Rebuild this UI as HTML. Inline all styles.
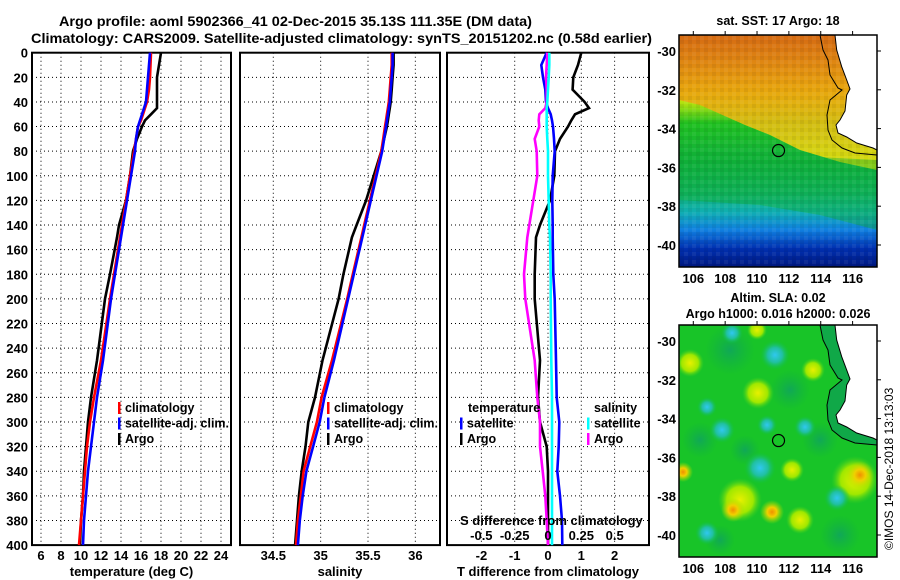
<!DOCTYPE html>
<html><head><meta charset="utf-8">
<style>
body{margin:0;background:#fff;}
svg{display:block;font-family:"Liberation Sans",sans-serif;font-weight:bold;}
</style></head>
<body>
<svg id="fig" width="900" height="580" viewBox="0 0 900 580" xmlns="http://www.w3.org/2000/svg">
<defs>
<linearGradient id="sstg" x1="0" y1="0" x2="0" y2="1">
<stop offset="0" stop-color="#f0a020"/><stop offset="0.12" stop-color="#f8c020"/>
<stop offset="0.24" stop-color="#f0e800"/><stop offset="0.30" stop-color="#a8e010"/>
<stop offset="0.38" stop-color="#20c020"/><stop offset="0.55" stop-color="#10b040"/>
<stop offset="0.68" stop-color="#10b070"/><stop offset="0.76" stop-color="#10b0b0"/>
<stop offset="0.84" stop-color="#1080e0"/><stop offset="0.92" stop-color="#0030b0"/>
<stop offset="1" stop-color="#001880"/></linearGradient>
<linearGradient id="warmg" x1="0" y1="0" x2="0" y2="1">
<stop offset="0" stop-color="#d06010"/><stop offset="0.45" stop-color="#e8a010"/>
<stop offset="0.8" stop-color="#f8d010"/><stop offset="1" stop-color="#f0e800"/></linearGradient>
<radialGradient id="cy"><stop offset="0" stop-color="#30c8f0"/><stop offset="0.5" stop-color="#20c0a0"/><stop offset="1" stop-color="#10c040" stop-opacity="0"/></radialGradient>
<radialGradient id="ye"><stop offset="0" stop-color="#e8f000"/><stop offset="0.6" stop-color="#a0e800"/><stop offset="1" stop-color="#40d020" stop-opacity="0"/></radialGradient>
<radialGradient id="or"><stop offset="0" stop-color="#f09000"/><stop offset="0.4" stop-color="#f0d000"/><stop offset="1" stop-color="#a0e000" stop-opacity="0"/></radialGradient>
<radialGradient id="dg"><stop offset="0" stop-color="#10a858"/><stop offset="1" stop-color="#10b040" stop-opacity="0"/></radialGradient>
<pattern id="px" width="8" height="8" patternUnits="userSpaceOnUse"><rect width="4" height="4" fill="#000" opacity="0.06"/><rect x="4" y="4" width="4" height="4" fill="#fff" opacity="0.06"/></pattern>
<clipPath id="m1c"><rect x="679" y="35" width="198" height="232"/></clipPath>
<clipPath id="m2c"><rect x="679" y="325" width="198" height="232"/></clipPath>
</defs>
<text x="59" y="26" font-size="14" textLength="473" lengthAdjust="spacingAndGlyphs">Argo profile: aoml 5902366_41 02-Dec-2015 35.13S 111.35E (DM data)</text>
<text x="31" y="43" font-size="14" textLength="621" lengthAdjust="spacingAndGlyphs">Climatology: CARS2009. Satellite-adjusted climatology: synTS_20151202.nc (0.58d earlier)</text>
<g id="panels"></g>
<g id="maps"></g>
<text transform="translate(893,550) rotate(-90)" font-size="12" font-weight="normal">©IMOS 14-Dec-2018 13:13:03</text>
</svg>
<script>
const depths=[0,10,20,30,40,45,50,55,60,70,80,100,120,140,150,180,200,250,280,300,320,340,360,380,400];
const tClim=[17.0,16.95,16.9,16.8,16.6,16.4,16.2,16.0,15.7,15.5,15.3,14.9,14.5,14.1,13.9,13.3,12.9,12.0,11.3,10.9,10.6,10.4,10.2,10.0,9.8];
const tSat=[16.9,16.8,16.7,16.6,16.5,16.3,16.1,15.9,15.7,15.5,15.4,15.0,14.6,14.2,14.0,13.4,13.0,12.2,11.6,11.3,11.0,10.7,10.5,10.3,10.2];
const tArgo=[18.0,17.8,17.6,17.6,17.6,17.6,17.0,16.4,16.1,15.6,15.2,14.9,14.5,13.8,13.6,12.9,12.4,11.6,11.0,10.7,10.5,10.3,10.2,10.0,9.9];
const sClim=[35.75,35.75,35.74,35.73,35.72,35.71,35.70,35.69,35.68,35.66,35.64,35.58,35.52,35.46,35.43,35.34,35.28,35.12,35.01,34.96,34.89,34.82,34.79,34.76,34.74];
const sSat=[35.76,35.76,35.75,35.74,35.73,35.72,35.71,35.70,35.69,35.67,35.65,35.59,35.53,35.47,35.44,35.35,35.29,35.14,35.04,34.99,34.92,34.85,34.81,34.78,34.76];
const sArgo=[35.77,35.77,35.76,35.75,35.74,35.73,35.72,35.71,35.70,35.67,35.64,35.56,35.48,35.38,35.33,35.24,35.19,35.02,34.94,34.87,34.84,34.80,34.77,34.75,34.73];
const tDiffSat=[-0.04,-0.2,-0.15,-0.08,-0.06,0.0,0.08,0.12,0.15,0.18,0.2,0.14,0.13,0.14,0.14,0.16,0.2,0.24,0.26,0.34,0.32,0.28,0.36,0.42,0.43];
const tDiffArgo=[1.0,0.9,0.76,0.74,1.1,1.23,0.81,0.7,0.6,0.36,0.21,0.19,0.06,-0.24,-0.36,-0.4,-0.4,-0.24,-0.3,-0.24,-0.04,0,0,0,0];
const sDiffSat=[0.01,0.01,0.005,0,-0.005,-0.01,-0.01,-0.01,-0.01,-0.005,0,0,0.005,0.01,0.015,0.02,0.02,0.025,0.03,0.03,0.03,0.03,0.03,0.03,0.03];
const sDiffArgo=[-0.005,-0.01,-0.015,-0.01,-0.01,-0.02,-0.065,-0.07,-0.065,-0.1,-0.085,-0.08,-0.11,-0.14,-0.155,-0.18,-0.17,-0.1,-0.08,-0.06,-0.06,-0.04,-0.02,-0.01,0];
const depthTicks=[0,20,40,60,80,100,120,140,160,180,200,220,240,260,280,300,320,340,360,380,400];
const tTicks=[6,8,10,12,14,16,18,20,22,24];
const sTicks=[34.5,35,35.5,36];
const tdTicks=[-2,-1,0,1,2];
const sdTicks=["-0.5","-0.25","0","0.25","0.5"];
const lonTicks=[106,108,110,112,114,116];
const latTicks=[-30,-32,-34,-36,-38,-40];

const NS="http://www.w3.org/2000/svg";
function mk(tag,attrs,parent){const e=document.createElementNS(NS,tag);for(const k in attrs)e.setAttribute(k,attrs[k]);parent.appendChild(e);return e;}
const yD=d=>52.7+d*1.231;
const xT=v=>41+(v-6)*10;
const xS=v=>273.3+(v-34.5)*94.7;
const xTD=v=>548+v*33.3;
const xSD=v=>548+v*133.3;
const P=document.getElementById('panels');

function panel(x0,x1,name,xTicksArr,xf,xlabel){
  const g=mk('g',{},P);
  
  
  depthTicks.forEach(d=>{if(d>0&&d<400){const l=mk('line',{x1:x0,x2:x1,y1:yD(d),y2:yD(d),stroke:'#000','stroke-width':1,'stroke-dasharray':'1,3'},g);}});
  xTicksArr.forEach(v=>{const x=xf(v);const l=mk('line',{x1:x,x2:x,y1:yD(0),y2:yD(400),stroke:'#000','stroke-width':1,'stroke-dasharray':'1,3'},g);});
  const r=mk('rect',{x:x0,y:yD(0),width:x1-x0,height:yD(400)-yD(0),fill:'none',stroke:'#000','stroke-width':2},g);
  
  if(xlabel){const t=mk('text',{x:(x0+x1)/2,y:576,'text-anchor':'middle','font-size':13},g);t.textContent=xlabel;}
  return g;
}
function series(g,xs,xf,color,name){
  const pts=xs.map((v,i)=>xf(v).toFixed(1)+','+yD(depths[i]).toFixed(1)).join(' ');
  const p=mk('polyline',{points:pts,fill:'none',stroke:color,'stroke-width':2.6,'stroke-linejoin':'miter'},g);
  
  
}
function xTickLabels(g,arr,xf,y,labels){
  arr.forEach((v,i)=>{const t=mk('text',{x:xf(v),y:y,'text-anchor':'middle','font-size':13},g);t.textContent=labels?labels[i]:v;});
}
function legend(g,x,y,items){
  items.forEach((it,i)=>{
    const yy=y+i*15.5;
    const m=mk('rect',{x:x,y:yy-10,width:2.5,height:12,fill:it[1]},g);
    
    const t=mk('text',{x:x+7,y:yy,'font-size':12.5},g);t.textContent=it[0];
    if(it[0].length>15){t.setAttribute('textLength','104');t.setAttribute('lengthAdjust','spacingAndGlyphs');}
    
  });
}
const g1=panel(32,231,'temperature-panel',tTicks,xT,'temperature (deg C)');
depthTicks.forEach(d=>{const t=mk('text',{x:28,y:yD(d)+5,'text-anchor':'end','font-size':13},g1);t.textContent=d;});
xTickLabels(g1,tTicks,xT,560);
series(g1,tArgo,xT,'#000','argo-temperature-line');
series(g1,tClim,xT,'#ff0000','climatology-temperature-line');
series(g1,tSat,xT,'#0000ff','satellite-adj-temperature-line');
legend(g1,118,412,[['climatology','#ff0000'],['satellite-adj. clim.','#0000ff'],['Argo','#000']]);
const g2=panel(240,440,'salinity-panel',sTicks,xS,'salinity');
xTickLabels(g2,sTicks,xS,560);
series(g2,sArgo,xS,'#000','argo-salinity-line');
series(g2,sClim,xS,'#ff0000','climatology-salinity-line');
series(g2,sSat,xS,'#0000ff','satellite-adj-salinity-line');
legend(g2,327,412,[['climatology','#ff0000'],['satellite-adj. clim.','#0000ff'],['Argo','#000']]);
const g3=panel(447,649,'difference-panel',tdTicks,xTD,'T difference from climatology');
xTickLabels(g3,tdTicks,xTD,560);
series(g3,tDiffArgo,xTD,'#000','argo-t-diff-line');
series(g3,tDiffSat,xTD,'#0000ff','satellite-t-diff-line');
series(g3,sDiffArgo,xSD,'#ff00ff','argo-s-diff-line');
series(g3,sDiffSat,xSD,'#00ffff','satellite-s-diff-line');
{const t=mk('text',{x:468,y:412,'font-size':12.5},g3);t.textContent='temperature';}
{const t=mk('text',{x:594,y:412,'font-size':12.5},g3);t.textContent='salinity';}
legend(g3,460,427.5,[['satellite','#0000ff'],['Argo','#000']]);
legend(g3,587,427.5,[['satellite','#00ffff'],['Argo','#ff00ff']]);
{const t=mk('text',{x:460,y:525,'font-size':13},g3);t.textContent='S difference from climatology';}
xTickLabels(g3,[-0.5,-0.25,0,0.25,0.5],xSD,540,sdTicks);

const M=document.getElementById('maps');
const mx=lon=>693.3+(lon-106)*15.93;
const land=[[835,0],[836.7,15],[841.7,31.7],[846.7,45],[850,54],[846.7,60],[845,76],[840,85],[836,90],[838,98],[846.7,102],[856.7,108],[873,113],[877,115],[877,0]];
const contour=[[820,0],[823,15],[828,25],[830,40],[838,53],[842,55],[836,60],[830,65],[827,80],[828,95],[832,105],[842,113],[855,118],[877,120]];
function mapFrame(g,top,title1,title2){
  const my=lat=>top+16+(-30-lat)*19.4;
  const pl=land.map(p=>p[0]+','+(p[1]+top)).join(' ');
  const lp=mk('polygon',{points:pl,fill:'#fff'},g);
  const cl=mk('polyline',{points:contour.map(p=>p[0]+','+(p[1]+top)).join(' '),fill:'none',stroke:'#000','stroke-width':1},g);
  
  const cl2=mk('polyline',{points:pl.split(' ').slice(0,-1).join(' '),fill:'none',stroke:'#000','stroke-width':1},g);
  
  const c=mk('circle',{cx:mx(111.35),cy:my(-35.13),r:6,fill:'none',stroke:'#000','stroke-width':1.2},g);
  
  const f=mk('rect',{x:679,y:top,width:198,height:232,fill:'none',stroke:'#000','stroke-width':1.5},g);
  
  lonTicks.forEach(v=>{mk('line',{x1:mx(v),x2:mx(v),y1:top,y2:top-4,stroke:'#000'},g);
    const t=mk('text',{x:mx(v),y:top+248,'text-anchor':'middle','font-size':13},g);t.textContent=v;});
  latTicks.forEach(v=>{mk('line',{x1:877,x2:881,y1:my(v),y2:my(v),stroke:'#000'},g);
    const t=mk('text',{x:676,y:my(v)+5,'text-anchor':'end','font-size':13},g);t.textContent=v;});
  title1.forEach((s,i)=>{const t=mk('text',{x:778,y:title2[i],'text-anchor':'middle','font-size':12.5},g);t.textContent=s;});
}
const m1=mk('g',{'clip-path':'url(#m1c)'},M);


mk('rect',{x:679,y:35,width:198,height:232,fill:'url(#sstg)'},m1);
mk('polygon',{points:'679,35 877,35 877,170 840,162 800,150 770,135 745,125 700,105 679,100',fill:'url(#warmg)',opacity:0.85},m1);
mk('polygon',{points:'679,150 877,160 877,230 820,215 760,205 679,200',fill:'#10b030',opacity:0.4},m1);
mk('rect',{x:679,y:35,width:198,height:232,fill:'url(#px)'},m1);
const gm1=mk('g',{},M);
mapFrame(gm1,35,['sat. SST: 17 Argo: 18'],[25]);
const m2=mk('g',{'clip-path':'url(#m2c)'},M);


mk('rect',{x:679,y:325,width:198,height:232,fill:'#18c428'},m2);
[[730,350,25],[790,390,20],[700,440,18],[745,450,15],[820,440,18],[840,535,20],[720,540,15]].forEach(b=>mk('circle',{cx:b[0],cy:b[1],r:b[2],fill:'url(#dg)'},m2));
[[758,393,16],[690,363,14],[813,370,12],[792,470,12],[757,330,10],[740,500,22],[800,520,14],[855,480,24]].forEach(b=>mk('circle',{cx:b[0],cy:b[1],r:b[2],fill:'url(#ye)'},m2));
[[860,475,14],[733,510,12],[772,512,12],[683,472,10]].forEach(b=>mk('circle',{cx:b[0],cy:b[1],r:b[2],fill:'url(#or)'},m2));
[[775,355,15],[722,430,13],[760,468,16],[837,498,13],[707,533,12],[732,333,11],[707,407,10],[767,425,10],[805,427,11]].forEach(b=>mk('circle',{cx:b[0],cy:b[1],r:b[2],fill:'url(#cy)'},m2));
mk('polyline',{points:contour.map(p=>p[0]+','+(p[1]+325)).join(' ')+' 877,325',fill:'#10a848'},m2);
const gm2=mk('g',{},M);
mapFrame(gm2,325,['Altim. SLA: 0.02','Argo h1000: 0.016 h2000: 0.026'],[302,318]);
</script>
</body></html>
